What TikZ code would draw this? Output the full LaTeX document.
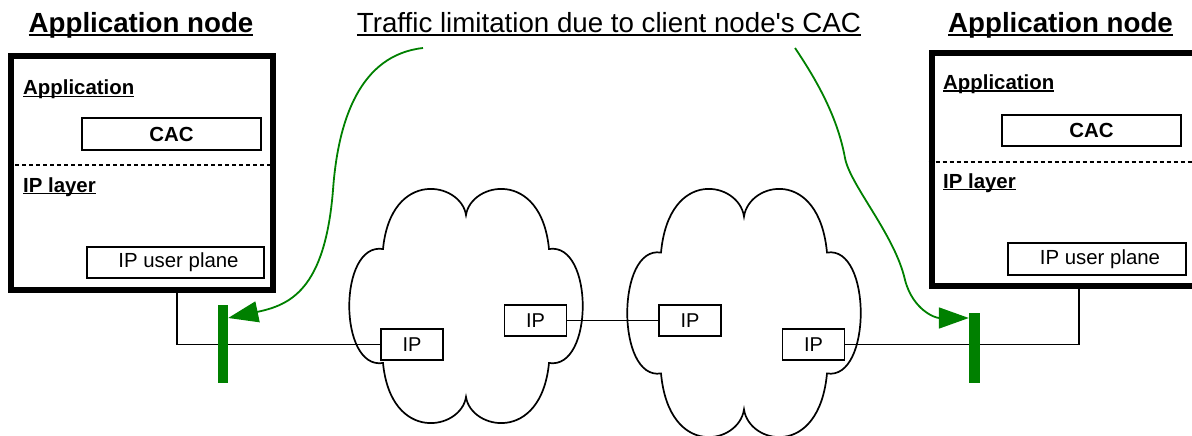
\documentclass[tikz,border=0pt]{standalone}
\usepackage{fontspec}
\setmainfont{Liberation Sans}
\newfontfamily\arialfont{Liberation Sans}[Ligatures=CommonOff]
\usetikzlibrary{arrows.meta}
\definecolor{limgreen}{RGB}{0,128,0}
% underline drawn close to the baseline, crossing the descenders
\newcommand{\ultext}[1]{\setbox0=\hbox{#1}\rlap{\rule[-0.11em]{\wd0}{0.075em}}\box0}

\tikzset{
  netcloud/.pic={
    \draw[cloudline] (0,-91)
      .. controls (-5,-124) and (-75,-138) .. (-83,-57)
      .. controls (-128,-64) and (-128,64) .. (-83,57)
      .. controls (-75,138) and (-5,124) .. (0,91)
      .. controls (5,124) and (75,138) .. (83,57)
      .. controls (128,64) and (128,-64) .. (83,-57)
      .. controls (75,-138) and (5,-124) .. (0,-91) -- cycle;
  },
  cloudline/.style={line width=1.7pt},
  appframe/.style={draw, line width=6pt, inner sep=0pt},
  innerbox/.style={draw, fill=white, line width=1.7pt, inner sep=0pt},
  ipbox/.style={innerbox, minimum width=62, minimum height=31, font=\arialfont\fontsize{20}{24}\selectfont},
  cacbox/.style={innerbox, minimum width=179, font=\arialfont\bfseries\fontsize{20.4}{24}\selectfont},
  planebox/.style={innerbox, font=\arialfont\fontsize{20.4}{24}\selectfont},
  titletext/.style={anchor=base, inner sep=0pt, font=\arialfont\bfseries\fontsize{27.7}{32}\selectfont},
  captiontext/.style={anchor=base, inner sep=0pt, font=\arialfont\fontsize{27.7}{32}\selectfont},
  layertext/.style={anchor=base west, inner sep=0pt, font=\arialfont\bfseries\fontsize{20.4}{24}\selectfont},
  layersep/.style={line width=1.6pt, dash pattern=on 4pt off 3pt},
  link/.style={line width=1.7pt},
  limbar/.style={fill=limgreen, inner sep=0pt},
  limarrow/.style={draw=limgreen, line width=1.8pt, -{Triangle[length=30pt,width=21pt,fill=limgreen]}}
}

\begin{document}
\begin{tikzpicture}[x=1pt,y=-1pt]
\clip (0,0) rectangle (1192,436);

% the two IP networks
\pic at (466,306) {netcloud};
\pic[yscale=1.06] at (744,313) {netcloud};

% application nodes
\node[appframe, minimum width=261.5, minimum height=233.5] (lapp) at (141.75,173.25) {};
\node[appframe, minimum width=268.5, minimum height=232] (rapp) at (1065.75,169.5) {};

\node[titletext] (ltitle) at (141,33) {\ultext{Application node}};
\node[titletext] (rtitle) at (1060.5,33) {\ultext{Application node}};

% left node contents
\node[layertext] (lapplayer) at (23,95) {\ultext{Application}};
\node[cacbox, minimum height=32] (lcac) at (171.5,134) {CAC};
\draw[layersep] (lapp.west |- 0,165) -- (lapp.east |- 0,165);
\node[layertext] (liplayer) at (23,192) {\ultext{IP layer}};
\node[planebox, minimum width=177, minimum height=31] (lplane) at (175.5,262.5) {\hspace{6pt}IP user plane};

% right node contents
\node[layertext] (rapplayer) at (943,89.5) {\ultext{Application}};
\node[cacbox, minimum height=31] (rcac) at (1091.5,130.5) {CAC};
\draw[layersep] (rapp.west |- 0,162) -- (rapp.east |- 0,162);
\node[layertext] (riplayer) at (943,188) {\ultext{IP layer}};
\node[planebox, minimum width=178, minimum height=32] (rplane) at (1097,259) {\hspace{6pt}IP user plane};

% caption
\node[captiontext] (caption) at (609,33) {\ultext{Traffic limitation due to client node's CAC}};
\coordinate (lstart) at (423,48);
\coordinate (rstart) at (795,48);

% IP routers
\node[ipbox] (ip1) at (412,344.5) {IP};
\node[ipbox] (ip2) at (535.5,320.5) {IP};
\node[ipbox] (ip3) at (690,320.5) {IP};
\node[ipbox] (ip4) at (813.5,344.5) {IP};

% transport links
\draw[link] (lapp.south -| 177,0) |- (ip1.west);
\draw[link] (ip2.east) -- (ip3.west);
\draw[link] (rapp.south -| 1079,0) |- (ip4.east);

% limitation points
\node[limbar, minimum width=10, minimum height=78] (lbar) at (223,344) {};
\node[limbar, minimum width=11, minimum height=70] (rbar) at (974.5,348) {};

\draw[limarrow] (lstart) .. controls (360,55) and (338,120) .. (333,190)
  .. controls (325,290) and (290,305) .. (lbar.east |- 0,318);
\draw[limarrow] (rstart) .. controls (820,85) and (838,120) .. (845,158)
  .. controls (850,185) and (895,235) .. (905,280)
  .. controls (913,310) and (935,318) .. (rbar.west |- 0,318);
\end{tikzpicture}
\end{document}
